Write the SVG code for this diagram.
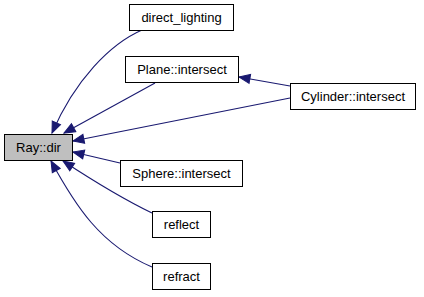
<svg xmlns="http://www.w3.org/2000/svg" width="424" height="297" viewBox="0 0 424 297">
  <style>
    .node rect { fill: #ffffff; stroke: #000000; stroke-width: 1; }
    .node.self rect { fill: #bfbfbf; }
    .node text { font-family: "Liberation Sans", Arial, Helvetica, sans-serif; font-size: 13px; fill: #000000; text-anchor: middle; }
    .edge { fill: none; stroke: #191970; stroke-width: 1.1; marker-end: url(#arrow); }
  </style>
  <defs>
    <marker id="arrow" markerUnits="userSpaceOnUse" markerWidth="14" markerHeight="12" viewBox="0 0 14 12" refX="12" refY="6" orient="auto">
      <polygon points="1,1.5 12,6 1,10.5" fill="#191970" stroke="#191970" stroke-width="1"/>
    </marker>
  </defs>

  <rect width="424" height="297" fill="#ffffff"/>

  <g id="connectors">
    <path class="edge" d="M142,30 C110,44 75,80 52,133"/>
    <path class="edge" d="M155,83 L64,133"/>
    <path class="edge" d="M290,98 L73,141"/>
    <path class="edge" d="M290,86 L239,77"/>
    <path class="edge" d="M120,163 L73,152"/>
    <path class="edge" d="M152,213 C125,200 92,180 63,161"/>
    <path class="edge" d="M152,267 C100,245 75,205 51,161"/>
  </g>

  <g id="node-ray-dir" class="node self">
    <rect x="4.5" y="134.5" width="68" height="26"/>
    <text x="38.5" y="152">Ray::dir</text>
  </g>
  <g id="node-direct-lighting" class="node">
    <rect x="129.5" y="4.5" width="104" height="26"/>
    <text x="181.5" y="22">direct_lighting</text>
  </g>
  <g id="node-plane-intersect" class="node">
    <rect x="125.5" y="56.5" width="113" height="26"/>
    <text x="182" y="74">Plane::intersect</text>
  </g>
  <g id="node-cylinder-intersect" class="node">
    <rect x="290.5" y="83.5" width="125" height="26"/>
    <text x="353" y="101">Cylinder::intersect</text>
  </g>
  <g id="node-sphere-intersect" class="node">
    <rect x="120.5" y="160.5" width="122" height="26"/>
    <text x="181.5" y="178">Sphere::intersect</text>
  </g>
  <g id="node-reflect" class="node">
    <rect x="152.5" y="211.5" width="58" height="26"/>
    <text x="181.5" y="229">reflect</text>
  </g>
  <g id="node-refract" class="node">
    <rect x="152.5" y="263.5" width="58" height="26"/>
    <text x="181.5" y="281">refract</text>
  </g>
</svg>
